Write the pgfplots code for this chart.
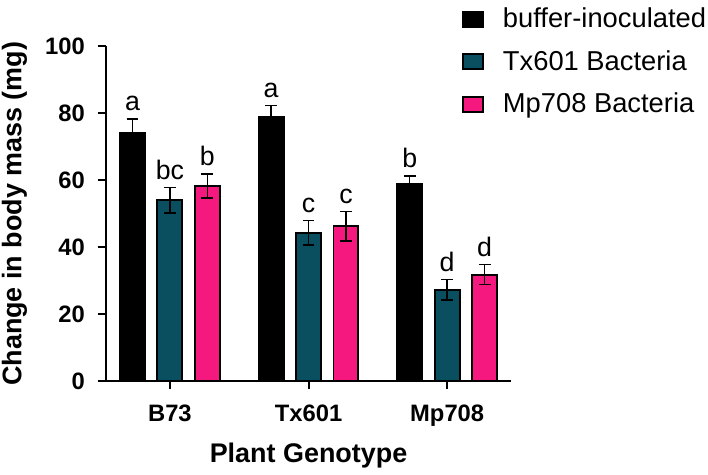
\documentclass[border=0pt]{standalone}
\usepackage{fontspec}
\setmainfont{Liberation Sans}
\usepackage{pgfplots}
\usepackage{pgfplotstable}
\pgfplotsset{compat=1.18}
\definecolor{tealbar}{HTML}{0A4F5F}
\definecolor{pinkbar}{HTML}{F5197F}

% bars placed at category -0.27 / 0 / +0.27
\pgfplotstableread{
x y err lab
-0.27 74.0 4.3 a
0.73 79.0 3.3 a
1.73 58.8 2.5 b
}\buffer
\pgfplotstableread{
x y err lab
0 54.0 3.8 bc
1 44.3 3.7 c
2 27.3 3.0 d
}\txbac
\pgfplotstableread{
x y err lab
0.27 58.3 3.6 b
1.27 46.3 4.4 c
2.27 31.8 3.0 d
}\mpbac

\pgfplotsset{
  mybar/.style={
    ybar, bar width=0.18, bar shift=0, draw=black, line width=1pt, fill=#1,
    legend image code/.code={\draw[fill=#1, draw=black, line width=1pt] (0pt,-3.75pt) rectangle (10pt,3.75pt);},
    error bars/.cd, y dir=both, y explicit,
    error bar style={line width=0.75pt, black},
    error mark options={rotate=90, mark size=3pt, line width=0.75pt, black},
    /pgfplots/.cd,
  },
}

\begin{document}
\begin{tikzpicture}
\begin{axis}[
    width=205pt, height=169pt, scale only axis,
    xmin=-0.464, xmax=2.464, ymin=0, ymax=100,
    axis x line=bottom, axis y line=left,
    axis line style={line width=1pt, -},
    xtick={0,1,2}, xticklabels={B73,Tx601,Mp708},
    ytick={0,20,...,100}, minor tick num=0,
    tick align=outside, major tick length=4pt,
    tick style={line width=1pt, black},
    ticklabel style={font=\fontsize{12}{14}\selectfont\bfseries},
    xticklabel style={yshift=-4.5pt},
    yticklabel style={xshift=-3pt},
    /pgf/number format/assume math mode=true,
    xlabel={Plant Genotype}, ylabel={Change in body mass (mg)},
    label style={font=\fontsize{13.6}{16}\selectfont\bfseries},
    xlabel style={yshift=-1.5pt},
    ylabel style={inner sep=1pt, yshift=4.5pt},
    legend style={at={(0.878,1.14)}, anchor=north west, draw=none,
        inner xsep=0pt, inner ysep=3pt, nodes={inner sep=1pt},
        font=\fontsize{13.8}{16}\selectfont, row sep=8pt,
        /tikz/every odd column/.style={column sep=8.5pt}},
    legend cell align=left,
    point meta=explicit symbolic,
    nodes near coords,
    visualization depends on={\thisrow{err} \as \err},
    nodes near coords style={anchor=south, inner sep=1pt, black,
        yshift={\err*1.69pt+2.5pt}, font=\fontsize{13.5}{16}\selectfont},
]
\addplot[mybar=black] table[x=x, y=y, y error=err, meta=lab] {\buffer};
\addlegendentry{buffer-inoculated}
\addplot[mybar=tealbar] table[x=x, y=y, y error=err, meta=lab] {\txbac};
\addlegendentry{Tx601 Bacteria}
\addplot[mybar=pinkbar] table[x=x, y=y, y error=err, meta=lab] {\mpbac};
\addlegendentry{Mp708 Bacteria}
\end{axis}
\end{tikzpicture}
\end{document}
